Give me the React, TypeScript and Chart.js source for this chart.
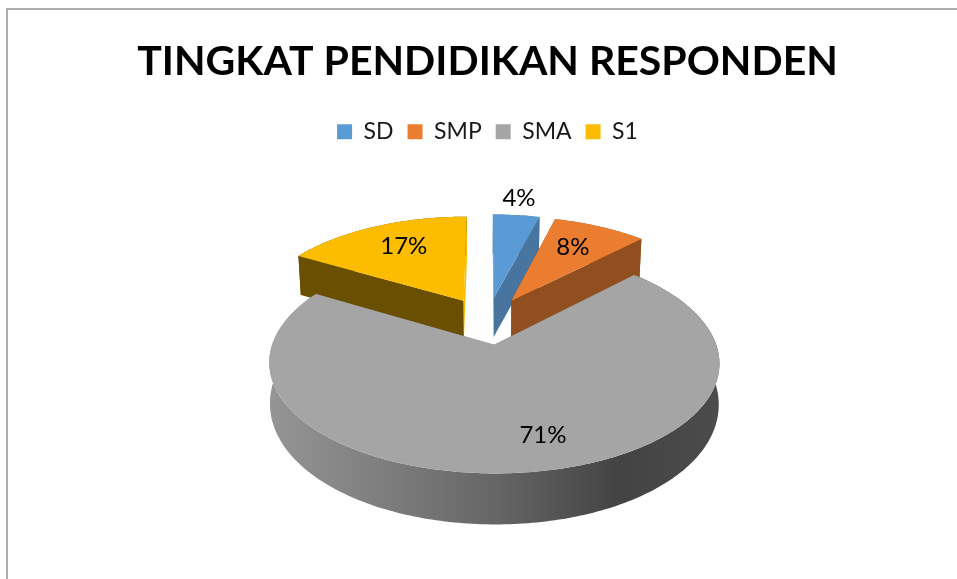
import React, { useEffect, useRef } from "react";
import { Chart, registerables } from "chart.js";

Chart.register(...registerables);

const titleText = "TINGKAT PENDIDIKAN RESPONDEN";
const categories = ["SD", "SMP", "SMA", "S1"];
const respondents = [2, 4, 34, 8];
const topColors = ["#5B9BD5", "#EB7D31", "#A5A5A5", "#FCBD00"];
const startCutColors = ["#47759F", "#914E1E", "#7A7A7A", "#6A4F00"];
const endCutColors = ["#47759F", "#914E1E", "#7A7A7A", "#FCBD00"];
const labelRadial = [1.24, 0.69, 0.758, 0.695];
const labelTurnDeg = [-0.5, -1, -7, 2];
const paintOrder = [3, 0, 1, 2];

// projection of the pie plane, imitating the perspective of a 3-D pie
const PERSPECTIVE_X = 0.0007;
const PERSPECTIVE_Y = 0.00065;
const SCALE_X = 0.947;
const SCALE_Y = 0.4512;
const CENTER_Y = 320.6;

function lowerAmount(yg: number) {
  const t = Math.min(1, Math.max(0, (-50 - yg) / 227));
  const back = Math.min(1, Math.max(0, yg / 50));
  return { depth: 39 + 12 * t, shrink: 0.003 + 0.0095 * back };
}

function project(cx: number, x: number, y: number, lower: boolean) {
  let sx = cx + (SCALE_X * x) / (1 + PERSPECTIVE_X * y);
  let sy = CENTER_Y - (SCALE_Y * y) / (1 + PERSPECTIVE_Y * y);
  if (lower) {
    const { depth, shrink } = lowerAmount(y);
    sx = cx + (sx - cx) * (1 - shrink);
    sy += depth;
  }
  return [sx, sy];
}

function slicePoint(arc: any, fraction: number, angle: number, lower: boolean) {
  const mid = (arc.startAngle + arc.endAngle) / 2;
  const off = arc.options.offset;
  const r = arc.outerRadius * fraction;
  const x = r * Math.cos(angle) + off * Math.cos(mid);
  const y = -r * Math.sin(angle) - off * Math.sin(mid);
  return project(arc.x, x, y, lower);
}

function fillPoly(ctx: CanvasRenderingContext2D, pts: number[][], fill: any) {
  ctx.beginPath();
  pts.forEach((p, i) => (i ? ctx.lineTo(p[0], p[1]) : ctx.moveTo(p[0], p[1])));
  ctx.closePath();
  ctx.fillStyle = fill;
  ctx.fill();
}

function arcAngles(arc: any) {
  const n = Math.max(2, Math.ceil(((arc.endAngle - arc.startAngle) * 180) / Math.PI));
  const out: number[] = [];
  for (let i = 0; i <= n; i++) out.push(arc.startAngle + ((arc.endAngle - arc.startAngle) * i) / n);
  return out;
}

const pie3d = {
  id: "pie3d",
  beforeDraw(chart: any) {
    const ctx = chart.ctx;
    ctx.save();
    ctx.fillStyle = "#ffffff";
    ctx.fillRect(0, 0, chart.width, chart.height);
    ctx.strokeStyle = "#ADADAD";
    ctx.lineWidth = 2;
    ctx.beginPath();
    ctx.moveTo(7, chart.height);
    ctx.lineTo(7, 9);
    ctx.lineTo(chart.width, 9);
    ctx.stroke();
    ctx.restore();
  },
  beforeDatasetDraw() {
    return false;
  },
  afterDatasetsDraw(chart: any) {
    const ctx: CanvasRenderingContext2D = chart.ctx;
    const arcs = chart.getDatasetMeta(0).data;
    ctx.save();
    for (const i of paintOrder) {
      const arc = arcs[i];
      const angles = arcAngles(arc);
      const topEdge = angles.map((a) => slicePoint(arc, 1, a, false));
      const lowEdge = angles.map((a) => slicePoint(arc, 1, a, true));
      const apexTop = slicePoint(arc, 0, 0, false);
      const apexLow = slicePoint(arc, 0, 0, true);
      const xs = lowEdge.concat(topEdge).map((p) => p[0]);
      const left = Math.min(...xs);
      const right = Math.max(...xs);

      let band: any = startCutColors[i];
      if (arc.endAngle - arc.startAngle > Math.PI) {
        band = ctx.createLinearGradient(left, 0, right, 0);
        band.addColorStop(0, "#959595");
        band.addColorStop(0.25, "#7E7E7E");
        band.addColorStop(0.5, "#666666");
        band.addColorStop(0.78, "#434343");
        band.addColorStop(1, "#4C4C4C");
      }
      fillPoly(ctx, topEdge.concat(lowEdge.slice().reverse()), band);

      const n = topEdge.length - 1;
      fillPoly(ctx, [apexTop, topEdge[0], lowEdge[0], apexLow], startCutColors[i]);
      fillPoly(ctx, [apexTop, topEdge[n], lowEdge[n], apexLow], endCutColors[i]);
      fillPoly(ctx, [apexTop].concat(topEdge), topColors[i]);
    }

    const total = respondents.reduce((a, b) => a + b, 0);
    ctx.fillStyle = "#000000";
    ctx.font = "24px Lato";
    ctx.textAlign = "center";
    ctx.textBaseline = "middle";
    arcs.forEach((arc: any, i: number) => {
      const mid = (arc.startAngle + arc.endAngle) / 2 + (labelTurnDeg[i] * Math.PI) / 180;
      const p = slicePoint(arc, labelRadial[i], mid, false);
      ctx.fillText(Math.round((respondents[i] / total) * 100) + "%", p[0], p[1]);
    });
    ctx.restore();
  },
};

export default function App() {
  const ref = useRef<HTMLCanvasElement>(null);
  useEffect(() => {
    const chart = new Chart(ref.current!, {
      type: "pie",
      data: {
        labels: categories,
        datasets: [
          {
            data: respondents,
            backgroundColor: topColors,
            borderWidth: 0,
            offset: 52,
          },
        ],
      },
      options: {
        responsive: false,
        animation: false,
        radius: 226,
        layout: { padding: { left: 18, top: 0, bottom: 0, right: 0 } },
        plugins: {
          title: {
            display: true,
            text: titleText,
            color: "#000000",
            font: { family: "Lato", size: 41, weight: "bold" },
            padding: { top: 37, bottom: 20 },
          },
          legend: {
            position: "top",
            labels: {
              color: "#1a1a1a",
              font: { family: "Lato", size: 23 },
              boxWidth: 15,
              boxHeight: 15,
              padding: 14,
            },
          },
          tooltip: { enabled: false },
        },
      } as any,
      plugins: [pie3d],
    });
    return () => chart.destroy();
  }, []);
  return (
    <div style={{ position: "absolute", left: 0, top: 0, width: 957, height: 579, overflow: "hidden" }}>
      <canvas ref={ref} width={957} height={579} style={{ display: "block" }} />
    </div>
  );
}
